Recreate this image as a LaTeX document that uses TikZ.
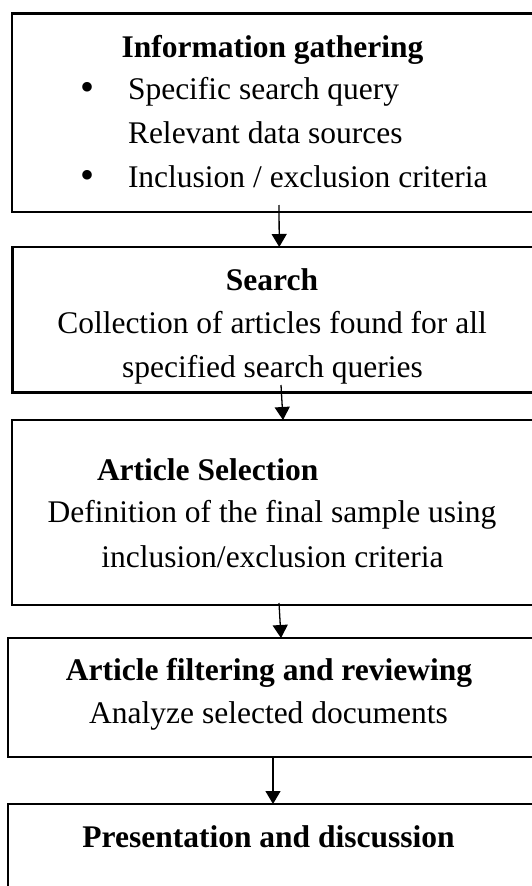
\documentclass[tikz,border=0pt]{standalone}
\usepackage{fontspec}
\setmainfont{Liberation Serif}
\usetikzlibrary{arrows.meta}
\begin{document}
\begin{tikzpicture}[x=1pt,y=-1pt,
  box/.style={draw, line width=2.2pt, outer sep=0pt, inner sep=0pt, anchor=north west},
  txt/.style={inner sep=0pt, outer sep=0pt, anchor=base, font=\fontsize{31.5}{44}\selectfont},
  txtl/.style={txt, anchor=base west},
  bul/.style={inner sep=0pt, outer sep=0pt, anchor=center, font=\fontsize{40}{44}\selectfont},
  arr/.style={line width=1.3pt, -{Triangle[width=15pt,length=13pt]}}]
\useasboundingbox (0,0) rectangle (531,886);
% boxes
\node[box, minimum width=522pt, minimum height=198.5pt] (b1) at (12,13.5) {};
\node[box, minimum width=521.5pt, minimum height=145.5pt] (b2) at (12.5,247) {};
\node[box, minimum width=522pt, minimum height=185pt] (b3) at (12,420) {};
\node[box, minimum width=526pt, minimum height=119pt] (b4) at (8,638) {};
\node[box, minimum width=526pt, minimum height=96pt] (b5) at (8,804) {};
% box 1 text
\node[txt] (t1) at (272.5,57) {\bfseries Information gathering};
\node[bul] (u1) at (88,91) {•};
\node[txtl] (l1) at (128,99) {Specific search query};
\node[txtl] (l2) at (128,143) {Relevant data sources};
\node[bul] (u3) at (88,179) {•};
\node[txtl] (l3) at (128,187) {Inclusion / exclusion criteria};
% box 2 text
\node[txt] (t2) at (272,290) {\bfseries Search};
\node[txt] (s1) at (272,333) {Collection of articles found for all};
\node[txt] (s2) at (272.5,377) {specified search queries};
% box 3 text
\node[txtl] (t3) at (97,480) {\bfseries Article Selection};
\node[txt] (d1) at (272,522) {Definition of the final sample using};
\node[txt] (d2) at (272.5,567) {inclusion/exclusion criteria};
% box 4 text
\node[txt] (t4) at (269,680) {\bfseries Article filtering and reviewing};
\node[txt] (a1) at (268.5,723) {Analyze selected documents};
% box 5 text
\node[txt] (t5) at (268.5,847) {\bfseries Presentation and discussion};
% arrows
\draw[arr] ([xshift=6pt,yshift=7pt]b1.south) -- ([xshift=6pt]b2.north);
\draw[arr] ([xshift=7.75pt,yshift=7.5pt]b2.south) -- ([xshift=10pt]b3.north);
\draw[arr] ([xshift=6pt,yshift=2pt]b3.south) -- ([xshift=10pt]b4.north);
\draw[arr] ([xshift=2pt]b4.south) -- ([xshift=2pt]b5.north);
\end{tikzpicture}
\end{document}
